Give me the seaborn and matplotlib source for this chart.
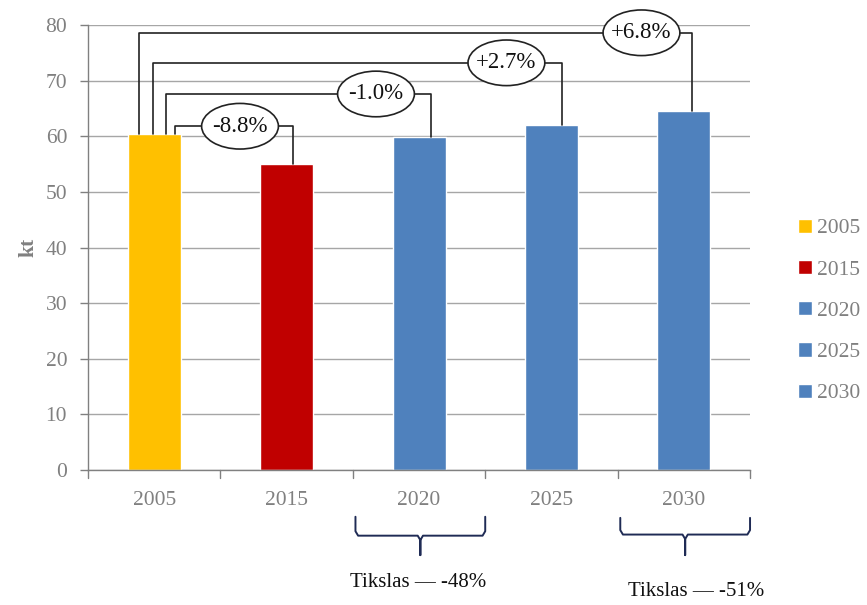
import matplotlib
matplotlib.use("Agg")
import matplotlib.pyplot as plt
import seaborn as sns
import pandas as pd
import numpy as np
from matplotlib.patches import Ellipse

years = ["2005", "2015", "2020", "2025", "2030"]
values = [60.4, 55.1, 59.8, 62.0, 64.5]
colors = ["#FFC000", "#C00000", "#4F81BD", "#4F81BD", "#4F81BD"]
changes = ["-8.8%", "-1.0%", "+2.7%", "+6.8%"]
targets = ["Tikslas — -48%", "Tikslas — -51%"]
y_ticks = [0, 10, 20, 30, 40, 50, 60, 70, 80]

sns.set_theme(style="white")
plt.rcParams["font.family"] = ["Liberation Serif", "DejaVu Serif"]

fig = plt.figure(figsize=(8.67, 6.05), dpi=100)
ax = fig.add_axes([0.1015, 0.2231, 0.7636, 0.7356])

df = pd.DataFrame({"year": years, "value": values})
sns.barplot(data=df, x="year", y="value", hue="year", palette=colors,
            width=0.4, dodge=False, ax=ax, saturation=1, legend=True)

ax.set_xlim(-0.5, 4.5)
ax.set_ylim(0, 80)
ax.set_yticks(y_ticks)
ax.set_xticks(range(5))
ax.set_xticklabels(years)
grey = "#808080"
ax.tick_params(axis="both", labelsize=15.5, labelcolor=grey, colors=grey)
ax.tick_params(axis="x", length=0, pad=15)
ax.tick_params(axis="y", length=6, width=1, direction="out", left=True, pad=9)
for b in np.arange(-0.5, 5.0, 1.0):
    ax.plot([b, b], [0, -1.5], color=grey, lw=1, clip_on=False)
ax.yaxis.grid(True, color="#a6a6a6", lw=1)
ax.set_axisbelow(True)
for s in ["top", "right"]:
    ax.spines[s].set_visible(False)
for s in ["left", "bottom"]:
    ax.spines[s].set_color(grey)
    ax.spines[s].set_linewidth(1)
ax.set_xlabel("")
ax.set_ylabel("kt", fontsize=15.5, fontweight="bold", color=grey, labelpad=5)

# legend
handles, labels = ax.get_legend_handles_labels()
ax.legend(handles, labels, loc="center left", bbox_to_anchor=(0.908, 0.486),
          bbox_transform=fig.transFigure, frameon=False, fontsize=15.5,
          handlelength=0.65, handleheight=0.65, handletextpad=0.25,
          labelspacing=1.0, labelcolor=grey, borderpad=0)

# connectors from 2005 to the other bars
start_off = [0.157, 0.09, -0.01, -0.115]
end_off = [0.05, 0.09, 0.08, 0.06]
levels = [61.8, 67.6, 73.2, 78.6]
ell_x = [0.648, 1.675, 2.66, 3.68]
for k in range(4):
    xs = start_off[k]
    xe = (k + 1) + end_off[k]
    y = levels[k]
    ax.plot([xs, xs, xe, xe], [values[0], y, y, values[k + 1]],
            color="#222222", lw=1.2, clip_on=False, zorder=4)
    e = Ellipse((ell_x[k], y), width=0.58, height=8.2, facecolor="white",
                edgecolor="#222222", lw=1.2, clip_on=False, zorder=5)
    ax.add_patch(e)
    ax.text(ell_x[k], y, changes[k], ha="center", va="center", fontsize=16.5,
            color="#111111", zorder=6, clip_on=False)

# braces under axis
def brace(x0, x1, ytop, ymid, ybot, color="#1F2B55"):
    xc = (x0 + x1) / 2
    r = 0.02
    xs = [x0, x0, x0 + r, xc - r, xc, xc, xc, xc + r, x1 - r, x1, x1]
    ys = [ytop, ymid + 0.8, ymid, ymid, ymid - 0.8, ybot, ymid - 0.8, ymid, ymid, ymid + 0.8, ytop]
    ax.plot(xs, ys, color=color, lw=1.4, clip_on=False, solid_joinstyle="round")

brace(1.52, 2.50, -8.4, -11.8, -15.3)
brace(3.52, 4.50, -8.6, -11.6, -15.3)
ax.text(1.99, -20.3, targets[0], ha="center", va="center", fontsize=15, color="#111111", clip_on=False)
ax.text(4.09, -21.9, targets[1], ha="center", va="center", fontsize=15, color="#111111", clip_on=False)

fig.savefig("out.png", dpi=100)
